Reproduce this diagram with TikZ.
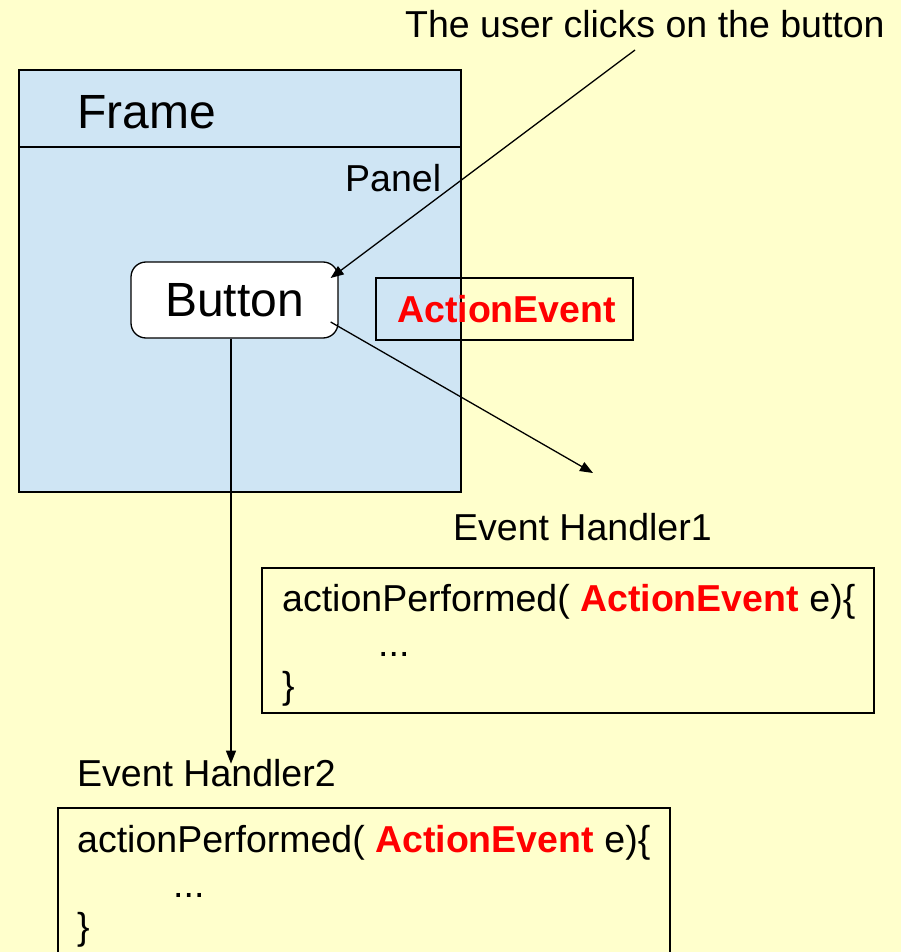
\documentclass[tikz,border=0pt]{standalone}
\usepackage{fontspec}
\setmainfont{Liberation Sans}
\usetikzlibrary{arrows.meta,positioning,calc}
\definecolor{notebg}{HTML}{FFFFCC}
\definecolor{framebl}{HTML}{CFE5F4}
\definecolor{evred}{HTML}{FF0000}
\newcommand{\evname}{\textcolor{evred}{\textbf{ActionEvent}}}

\begin{document}
\begin{tikzpicture}[x=1pt, y=-1pt,
  lbl/.style={inner sep=0pt, anchor=base west, font=\fontsize{37.5}{45}\selectfont},
  big/.style={inner sep=0pt, anchor=base west, font=\fontsize{48}{57}\selectfont},
  box/.style={draw, line width=1.3pt},
  arrow/.style={-{Triangle[length=13pt,width=10pt]}, line width=1.3pt},
]
% Background
\fill[notebg] (0,0) rectangle (901,952);
\useasboundingbox (0,0) rectangle (901,952);

% Frame and panel
\draw[box, fill=framebl] (19,70) rectangle (461,492);
\draw[box] (19,147) -- (461,147);
\node[big] (frame) at (77,129) {Frame};
\node[lbl] (panel) at (345,191) {Panel};

% Button and event
\node[box, fill=white, rounded corners=15pt, minimum width=207pt, minimum height=76pt,
      inner sep=0pt, font=\fontsize{48}{57}\selectfont] (button) at (234.5,300) {Button};
\draw[box] (376,278) rectangle (633,340);
\node[lbl] (event) at (397,322) {\evname};

% User action
\node[lbl] (click) at (405,38) {The user clicks on the button};

% Handler 1
\node[lbl] (eh1) at (453,540) {Event Handler1};
\draw[box] (262,568) rectangle (874,713);
\node[lbl] (m1) at (282,611) {actionPerformed( \evname{} e)\{};
\node[lbl] (d1) at (378,656) {...};
\node[lbl] (c1) at (282,698) {\}};

% Handler 2
\node[lbl] (eh2) at (77,786) {Event Handler2};
\draw[box] (58,808) rectangle (670,980);
\node[lbl] (m2) at (77,852) {actionPerformed( \evname{} e)\{};
\node[lbl] (d2) at (173,897) {...};
\node[lbl] (c2) at (77,939) {\}};

% Arrows
\coordinate (clickfoot) at (635,50);
\coordinate (btnin) at ($(button.east)+(-8,-22)$);
\coordinate (btnout) at ($(button.east)+(-8,22)$);
\coordinate (toeh1) at (593,473);
\coordinate (toeh2) at ($(button.south)+(-3.5,425)$);
\draw[arrow] (clickfoot) -- (btnin);
\draw[arrow] (btnout) -- (toeh1);
\draw[arrow] (button.south -| toeh2) -- (toeh2);

\end{tikzpicture}
\end{document}
